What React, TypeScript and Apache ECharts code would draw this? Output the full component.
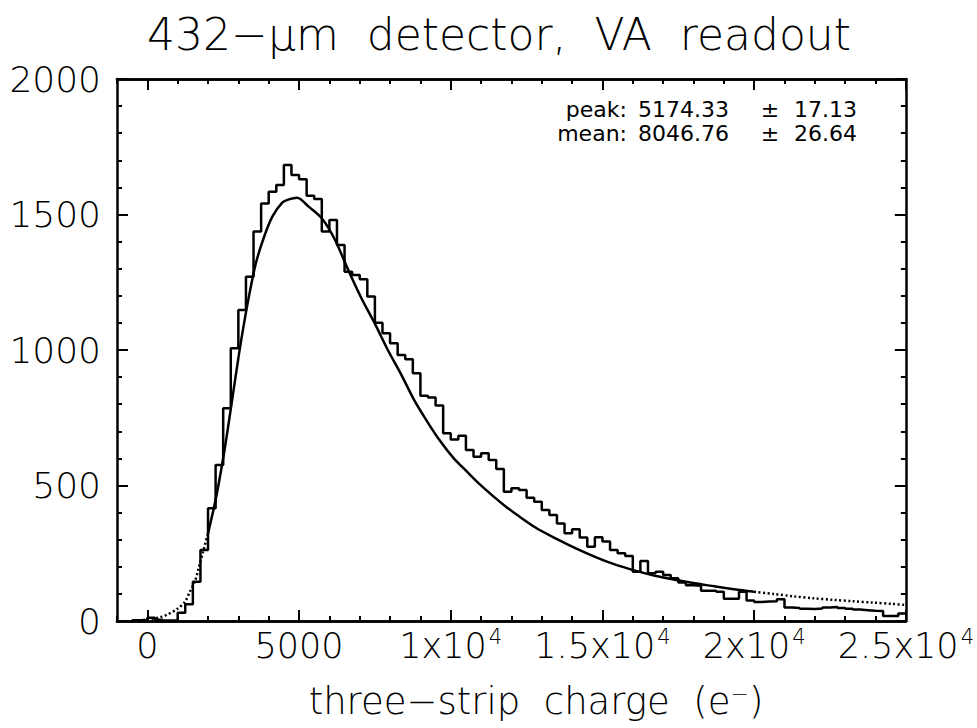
import React, { useEffect, useRef } from "react";
import * as echarts from "echarts";

// ---- data ----
const binStart = -500;
const binWidth = 250;
const counts = [
  3, 4, 12, 5, 2, 3,
  30, 62, 145, 262, 416, 576, 785, 1006, 1148, 1270, 1437, 1541, 1584, 1609, 1683, 1646,
  1630, 1569, 1557, 1437, 1480, 1387, 1289, 1277, 1261, 1197, 1101, 1062, 1025, 982, 966, 914, 831, 825, 795, 693,
  670, 684, 631, 606, 619, 594, 561, 477, 490, 483, 455, 440, 410, 391, 360, 324, 339, 308, 274, 309,
  293, 262, 250, 240, 182, 221, 176, 182, 170, 158, 142, 132, 130, 112, 112, 108, 82, 82, 108, 76,
  70, 72, 73, 80, 50, 48, 45, 44, 46, 50, 52, 48, 45, 42, 40, 38, 37, 18, 18, 28,
];

const fitLowX = [-300, 0, 424, 695, 968, 1240, 1402, 1566, 1675, 1837, 2000];
const fitLowY = [2, 6, 14, 26, 43, 71, 108, 145, 188, 256, 323];

const fitX = [2000, 2272, 2544, 2762, 3033, 3305, 3577, 3849, 4120, 4446, 4664, 4935, 5316, 5750, 6187, 6621, 7056, 7491, 7926, 8360, 8796, 9230, 9664, 10100, 10535, 10969, 11405, 11840, 12166, 12818, 13470, 14123, 14775, 15427, 16080, 16732, 17384, 18036, 18689, 19341, 20000];
const fitY = [323, 459, 631, 791, 994, 1172, 1320, 1418, 1492, 1544, 1556, 1562, 1529, 1486, 1406, 1295, 1191, 1099, 1000, 911, 815, 735, 662, 600, 551, 503, 460, 420, 393, 343, 304, 268, 236, 208, 186, 167, 152, 139, 128, 117, 108];

const fitHighX = [20000, 20646, 21298, 21950, 22603, 23255, 23907, 24560, 25000];
const fitHighY = [108, 100, 91, 84, 78, 73, 68, 63, 59];

const xMajorTicks = [0, 5000, 10000, 15000, 20000, 25000];
const xTickLabels = ["0", "5000", "1x10^4", "1.5x10^4", "2x10^4", "2.5x10^4"];
const yTickLabels = ["0", "500", "1000", "1500", "2000"];

const titleText = "432−μm  detector,  VA  readout";
const xAxisTitle = "three−strip  charge  (e{sup|−})";
const statLabels = ["peak:", "mean:"];
const statValues = ["5174.33", "8046.76"];
const statErrors = ["17.13", "26.64"];

const LABEL_FONT = "DejaVu Sans";
const TITLE_FONT = "DejaVu Sans";

export default function App() {
  const ref = useRef<HTMLDivElement>(null);

  useEffect(() => {
    if (!ref.current) return;
    const chart = echarts.init(ref.current, null, { renderer: "svg" });

    const histData: number[][] = [];
    histData.push([binStart, 0]);
    counts.forEach((v, i) => {
      const lo = binStart + i * binWidth;
      histData.push([lo, v]);
      histData.push([lo + binWidth, v]);
    });

    const zip = (xs: number[], ys: number[]) => xs.map((x, i) => [x, ys[i]]);

    const axisLineStyle = { color: "#000", width: 2.5 };
    const tickStyle = { color: "#000", width: 2 };
    const baseX = {
      type: "value" as const,
      min: -1000,
      max: 25000,
      splitLine: { show: false },
      axisLine: { show: true, onZero: false, lineStyle: axisLineStyle },
    };

    const formatX = (v: number) => {
      const i = xMajorTicks.indexOf(v);
      if (i < 0) return "";
      const s = xTickLabels[i];
      if (s.includes("^")) {
        const [b, e] = s.split("^");
        return `{b|${b}}{sup|${e}}`;
      }
      return `{b|${s}}`;
    };

    const xLabelRich = {
      b: { fontFamily: LABEL_FONT, fontSize: 35, fontWeight: 200, color: "#000", lineHeight: 40 },
      sup: { fontFamily: LABEL_FONT, fontSize: 21, fontWeight: 200, color: "#000", lineHeight: 40, verticalAlign: "top" as const, padding: [0, 0, 0, 2] },
    };

    chart.setOption({
      animation: false,
      backgroundColor: "#fff",
      grid: { left: 117, right: 64, top: 79, bottom: 107, containLabel: false },
      xAxis: [
        {
          ...baseX,
          position: "bottom",
          interval: 1000,
          axisTick: { show: true, inside: true, length: 5, lineStyle: tickStyle },
          axisLabel: { show: false },
        },
        {
          ...baseX,
          position: "bottom",
          axisTick: { show: true, inside: true, length: 11, customValues: xMajorTicks, lineStyle: tickStyle },
          axisLabel: {
            show: true,
            customValues: xMajorTicks,
            formatter: formatX,
            margin: 5,
            rich: xLabelRich,
          },
        },
        {
          ...baseX,
          position: "top",
          interval: 1000,
          axisTick: { show: true, inside: true, length: 5, lineStyle: tickStyle },
          axisLabel: { show: false },
        },
        {
          ...baseX,
          position: "top",
          axisTick: { show: true, inside: true, length: 11, customValues: xMajorTicks, lineStyle: tickStyle },
          axisLabel: { show: false },
        },
      ],
      yAxis: [
        {
          type: "value",
          position: "left",
          min: 0,
          max: 2000,
          interval: 500,
          splitLine: { show: false },
          axisLine: { show: true, onZero: false, lineStyle: axisLineStyle },
          axisTick: { show: true, inside: true, length: 11, lineStyle: tickStyle },
          minorTick: { show: true, splitNumber: 5, length: 5, lineStyle: tickStyle },
          minorSplitLine: { show: false },
          axisLabel: {
            show: true,
            margin: 16,
            color: "#000",
            fontFamily: LABEL_FONT,
            fontSize: 36,
            fontWeight: 200,
            formatter: (v: number) => yTickLabels[Math.round(v / 500)] ?? "",
          },
        },
        {
          type: "value",
          position: "right",
          min: 0,
          max: 2000,
          interval: 500,
          splitLine: { show: false },
          axisLine: { show: true, onZero: false, lineStyle: axisLineStyle },
          axisTick: { show: true, inside: true, length: 11, lineStyle: tickStyle },
          minorTick: { show: true, splitNumber: 5, length: 5, lineStyle: tickStyle },
          axisLabel: { show: false },
        },
      ],
      series: [
        {
          type: "line",
          xAxisIndex: 0,
          yAxisIndex: 0,
          data: histData,
          showSymbol: false,
          lineStyle: { color: "#000", width: 2.5 },
          silent: true,
        },
        {
          type: "line",
          xAxisIndex: 0,
          yAxisIndex: 0,
          data: zip(fitX, fitY),
          showSymbol: false,
          smooth: 0.3,
          lineStyle: { color: "#000", width: 2.5 },
          silent: true,
        },
        {
          type: "line",
          xAxisIndex: 0,
          yAxisIndex: 0,
          data: zip(fitLowX, fitLowY),
          showSymbol: false,
          smooth: 0.3,
          lineStyle: { color: "#000", width: 2.5, type: [2, 2.5] },
          silent: true,
        },
        {
          type: "line",
          xAxisIndex: 0,
          yAxisIndex: 0,
          data: zip(fitHighX, fitHighY),
          showSymbol: false,
          smooth: 0.3,
          lineStyle: { color: "#000", width: 2.5, type: [2, 2.5] },
          silent: true,
        },
      ],
      graphic: [
        {
          type: "text",
          x: 499,
          y: 34,
          style: {
            text: titleText,
            textAlign: "center",
            textVerticalAlign: "middle",
            font: `200 44px "${TITLE_FONT}"`,
            fill: "#000",
          },
        },
        {
          type: "text",
          x: 536,
          y: 701,
          style: {
            text: xAxisTitle,
            textAlign: "center",
            textVerticalAlign: "middle",
            font: `200 37px "${TITLE_FONT}"`,
            fill: "#000",
            rich: {
              sup: { fontFamily: TITLE_FONT, fontSize: 22, fontWeight: 200, fill: "#000", verticalAlign: "top" },
            },
          },
        },
        ...statLabels.flatMap((lab, i) => {
          const y = 109 + i * 24;
          const f = `22px "${LABEL_FONT}"`;
          return [
            { type: "text", x: 627, y, style: { text: lab, textAlign: "right", textVerticalAlign: "middle", font: f, fill: "#000" } },
            { type: "text", x: 638, y, style: { text: statValues[i], textAlign: "left", textVerticalAlign: "middle", font: f, fill: "#000" } },
            { type: "text", x: 770, y, style: { text: "±", textAlign: "center", textVerticalAlign: "middle", font: f, fill: "#000" } },
            { type: "text", x: 794, y, style: { text: statErrors[i], textAlign: "left", textVerticalAlign: "middle", font: f, fill: "#000" } },
          ];
        }),
      ],
    });

    return () => chart.dispose();
  }, []);

  return (
    <div
      ref={ref}
      style={{ position: "fixed", left: 0, top: 0, width: 977, height: 728, background: "#fff" }}
    />
  );
}
